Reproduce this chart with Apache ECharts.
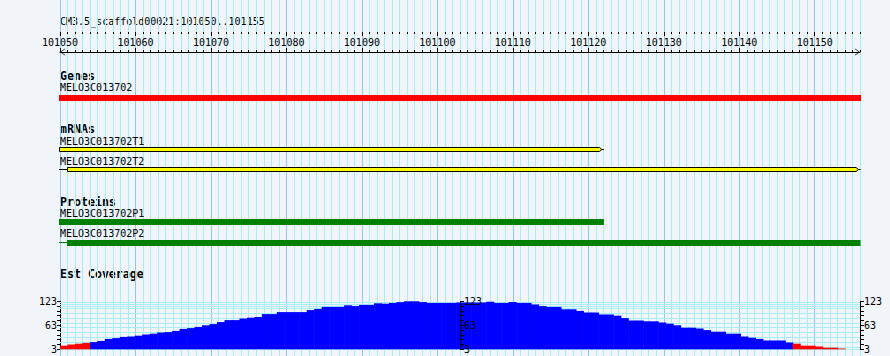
<!DOCTYPE html>
<html><head><meta charset="utf-8">
<script src="https://cdn.jsdelivr.net/npm/echarts@6/dist/echarts.min.js"></script>
<style>html,body{margin:0;padding:0;background:#f1f5fa}#c{width:890px;height:356px}</style>
</head><body><div id="c"></div>
<script>
// ---------- data ----------
const refName = 'CM3.5_scaffold00021';
const viewStart = 101050;
const viewEnd = 101156;           // shown as 101050..101155
const viewEndLabel = 101155;
const rulerMajorStep = 10;
const trackTitles = ['Genes', 'mRNAs', 'Proteins', 'Est Coverage'];

const geneNames = ['MELO3C013702'];
const geneStarts = [101050];
const geneEnds = [101156];

const mrnaNames = ['MELO3C013702T1', 'MELO3C013702T2'];
const mrnaStarts = [101050, 101050];
const mrnaBoxStarts = [101050, 101051];
const mrnaEnds = [101122, 101156];

const proteinNames = ['MELO3C013702P1', 'MELO3C013702P2'];
const proteinStarts = [101050, 101050];
const proteinBoxStarts = [101050, 101051];
const proteinEnds = [101122, 101156];

const coverage = [12,15,17,19,21,24,29,31,34,35,37,40,42,45,46,49,54,56,59,63,
  66,71,76,76,80,82,84,91,91,96,96,96,96,101,104,109,109,109,113,111,
  114,114,118,117,119,121,123,123,121,119,119,119,119,120,120,120,120,122,119,119,
  121,119,119,115,111,109,109,103,103,99,95,95,90,90,87,81,75,75,73,73,
  70,67,63,57,57,55,51,47,47,42,42,35,32,29,25,25,25,20,17,12,
  12,10,7,7,5,3,3];
const coverageMin = 3, coverageMax = 123, coverageStep = 12;
const coverageTickLabels = [3, 63, 123];
const lowCoverage = 20;
const coverageGridLines = [122, 116, 111, 105.5, 93.75, 81.75, 69.75, 57.75, 45.75, 33.75, 21.75, 9.75];

// ---------- layout / style ----------
const BG = '#f1f5fa', MINOR = '#a6eef2', MAJOR = '#8ccaee';
const smallFont = '10px "DejaVu Sans Mono"';
const boldFont = 'bold 11.6px "DejaVu Sans Mono"';
const L = 60, W = 800;
const titleY = [76, 128.5, 201.5, 274];
const geneLayout = { labelY: [87.5], barY: [95], barH: 6 };
const mrnaLayout = { labelY: [141, 161], barY: [147.5, 167.5], barH: 4 };
const protLayout = { labelY: [213, 233.5], barY: [219, 240], barH: 6 };
const covTop = 301.3, covH = 48;

const splitColors = [MAJOR].concat(new Array(rulerMajorStep - 1).fill(MINOR));
const chevron = 'path://M0,10 L7,0 L14,10 L12.4,10 L7,2.3 L1.6,10 Z';

function xOf(api, v) { return api.coord([v, 0])[0]; }

function renderGene(params, api) {
  const i = params.dataIndex;
  const x0 = xOf(api, api.value(0)), x1 = xOf(api, api.value(1));
  return { type: 'group', children: [
    { type: 'rect', shape: { x: x0 - 1, y: geneLayout.barY[i], width: x1 - x0 + 2, height: geneLayout.barH }, style: { fill: '#ff0000' } },
    { type: 'text', x: x0, y: geneLayout.labelY[i], style: { text: geneNames[i], font: smallFont, fill: '#000', verticalAlign: 'middle', align: 'left' } }
  ]};
}
function renderMrna(params, api) {
  const i = params.dataIndex;
  const xs = xOf(api, api.value(0)), xb = xOf(api, api.value(1)), x1 = xOf(api, api.value(2));
  const y = mrnaLayout.barY[i], h = mrnaLayout.barH, xe = x1 - 4;
  const bx = Math.round(xb) - 0.5;
  const ch = [];
  if (xb > xs) ch.push({ type: 'line', shape: { x1: xs - 1, y1: y + 2, x2: bx, y2: y + 2 }, style: { stroke: '#000', lineWidth: 1 } });
  ch.push({ type: 'polygon', shape: { points: [[bx, y], [xe, y], [xe + 2.5, y + 2], [xe, y + h], [bx, y + h]] }, style: { fill: '#ffff00', stroke: '#000', lineWidth: 1 } });
  ch.push({ type: 'line', shape: { x1: xe + 2.5, y1: y + 2, x2: x1 + 0.5, y2: y + 2 }, style: { stroke: '#000', lineWidth: 1 } });
  ch.push({ type: 'text', x: xs, y: mrnaLayout.labelY[i], style: { text: mrnaNames[i], font: smallFont, fill: '#000', verticalAlign: 'middle', align: 'left' } });
  return { type: 'group', children: ch };
}
function renderProt(params, api) {
  const i = params.dataIndex;
  const xs = xOf(api, api.value(0)), xb = xOf(api, api.value(1)), x1 = xOf(api, api.value(2));
  const y = protLayout.barY[i], h = protLayout.barH;
  const ch = [];
  if (xb > xs) ch.push({ type: 'line', shape: { x1: xs - 1, y1: y + 2.5, x2: xb, y2: y + 2.5 }, style: { stroke: '#008000', lineWidth: 1 } });
  ch.push({ type: 'rect', shape: { x: Math.round(xb) - 1, y: y, width: x1 - Math.round(xb) + 1.5, height: h }, style: { fill: '#008000' } });
  ch.push({ type: 'text', x: xs, y: protLayout.labelY[i], style: { text: proteinNames[i], font: smallFont, fill: '#000', verticalAlign: 'middle', align: 'left' } });
  return { type: 'group', children: ch };
}
function renderCovGrid(params, api) {
  const cs = params.coordSys;
  const y = Math.round(api.coord([0, api.value(0)])[1]) + 0.5;
  return { type: 'line', shape: { x1: cs.x, y1: y, x2: cs.x + cs.width, y2: y }, style: { stroke: MINOR, lineWidth: 1 } };
}
function renderCov(params, api) {
  const cs = params.coordSys;
  const idx = api.value(0), v = api.value(1);
  const top = api.coord([idx, v]);
  const base = api.coord([idx, coverageMin]);
  const w = api.size([1, 0])[0];
  const x0 = top[0] - w / 2;
  const right = Math.min(x0 + w + 0.6, cs.x + cs.width);
  return { type: 'rect', shape: { x: x0, y: top[1], width: right - x0, height: base[1] - top[1] },
    style: { fill: v < lowCoverage ? '#ff0000' : '#0000ff' } };
}

const axisFont = { fontFamily: 'DejaVu Sans Mono', fontSize: 10, color: '#000' };
const covLabelFmt = v => coverageTickLabels.indexOf(v) >= 0 ? String(v) : '';

const chart = echarts.init(document.getElementById('c'), null, { renderer: 'svg' });
chart.setOption({
  animation: false,
  backgroundColor: BG,
  grid: [
    { left: L, top: 0, width: W, height: 356, outerBoundsMode: 'none', containLabel: false },
    { left: L, top: 32, width: W, height: 20, outerBoundsMode: 'none', containLabel: false },
    { left: L, top: 32, width: W * (viewEndLabel - 5 - viewStart) / (viewEnd - viewStart), height: 20, outerBoundsMode: 'none', containLabel: false },
    { left: L, top: covTop, width: W, height: covH, outerBoundsMode: 'none', containLabel: false }
  ],
  xAxis: [
    { gridIndex: 0, type: 'value', min: viewStart, max: viewEnd, interval: 1,
      axisLine: { show: false }, axisTick: { show: false }, axisLabel: { show: false },
      splitLine: { show: true, lineStyle: { color: splitColors, width: 1 } } },
    { gridIndex: 1, type: 'value', position: 'top', min: viewStart, max: viewEnd, interval: 1,
      axisLine: { show: true, symbol: [chevron, chevron], symbolSize: [7, 5], symbolOffset: [2.5, -2.5], lineStyle: { color: '#000', width: 1 } },
      axisTick: { show: true, length: 2, inside: false, lineStyle: { color: '#000' } },
      axisLabel: { show: false }, splitLine: { show: false } },
    { gridIndex: 1, type: 'value', position: 'top', min: viewStart, max: viewEnd, interval: 1,
      axisLine: { show: false },
      axisTick: { show: true, length: 2, inside: true, lineStyle: { color: '#000' } },
      axisLabel: { show: false }, splitLine: { show: false } },
    { gridIndex: 2, type: 'value', position: 'top', min: viewStart, max: viewEndLabel - 5, interval: rulerMajorStep,
      axisLine: { show: false },
      axisTick: { show: true, length: 4, inside: false, lineStyle: { color: '#000' } },
      axisLabel: { show: false }, splitLine: { show: false } },
    { gridIndex: 2, type: 'value', position: 'top', min: viewStart, max: viewEndLabel - 5, interval: rulerMajorStep,
      axisLine: { show: false },
      axisTick: { show: true, length: 4, inside: true, lineStyle: { color: '#000' } },
      axisLabel: Object.assign({ show: true, inside: true, margin: 5, formatter: v => String(v) }, axisFont),
      splitLine: { show: false } },
    { gridIndex: 3, type: 'category', data: coverage.map((_, i) => i), boundaryGap: true,
      axisLine: { show: true, lineStyle: { color: MINOR, width: 1 } }, axisTick: { show: false }, axisLabel: { show: false }, splitLine: { show: false } }
  ],
  yAxis: [
    { gridIndex: 0, type: 'value', min: 0, max: 356, inverse: true, show: false },
    { gridIndex: 1, type: 'value', show: false },
    { gridIndex: 2, type: 'value', show: false },
    { gridIndex: 3, type: 'value', position: 'left', min: coverageMin, max: coverageMax, interval: coverageStep,
      axisLine: { show: true, lineStyle: { color: '#000' } }, axisTick: { show: true, length: 3, lineStyle: { color: '#000' } },
      axisLabel: Object.assign({ margin: 3, formatter: covLabelFmt }, axisFont), splitLine: { show: false } },
    { gridIndex: 3, type: 'value', position: 'left', offset: -W / 2, z: 10, min: coverageMin, max: coverageMax, interval: coverageStep,
      axisLine: { show: true, lineStyle: { color: '#000' } }, axisTick: { show: true, inside: true, length: 4, lineStyle: { color: '#000' } },
      axisLabel: Object.assign({ inside: true, margin: 4, formatter: covLabelFmt }, axisFont), splitLine: { show: false } },
    { gridIndex: 3, type: 'value', position: 'right', min: coverageMin, max: coverageMax, interval: coverageStep,
      axisLine: { show: true, lineStyle: { color: '#000' } }, axisTick: { show: true, length: 4, lineStyle: { color: '#000' } },
      axisLabel: Object.assign({ margin: 4, formatter: covLabelFmt }, axisFont), splitLine: { show: false } }
  ],
  graphic: [
    { type: 'text', x: L, y: 21, silent: true, style: { text: refName + ':' + viewStart + '..' + viewEndLabel, font: smallFont, fill: '#000', verticalAlign: 'middle' } }
  ].concat(trackTitles.map((t, i) => ({ type: 'text', x: L, y: titleY[i], silent: true, style: { text: t, font: boldFont, fill: '#000', verticalAlign: 'middle' } }))),
  series: [
    { type: 'custom', xAxisIndex: 0, yAxisIndex: 0, silent: true, z: 3, renderItem: renderGene,
      data: geneNames.map((_, i) => [geneStarts[i], geneEnds[i]]) },
    { type: 'custom', xAxisIndex: 0, yAxisIndex: 0, silent: true, z: 3, renderItem: renderMrna,
      data: mrnaNames.map((_, i) => [mrnaStarts[i], mrnaBoxStarts[i], mrnaEnds[i]]) },
    { type: 'custom', xAxisIndex: 0, yAxisIndex: 0, silent: true, z: 3, renderItem: renderProt,
      data: proteinNames.map((_, i) => [proteinStarts[i], proteinBoxStarts[i], proteinEnds[i]]) },
    { type: 'custom', xAxisIndex: 5, yAxisIndex: 3, silent: true, z: 1, renderItem: renderCovGrid,
      data: coverageGridLines.map(v => [v]), encode: { y: 0 } },
    { type: 'custom', xAxisIndex: 5, yAxisIndex: 3, silent: true, z: 5, renderItem: renderCov,
      data: coverage.map((v, i) => [i, v]), encode: { x: 0, y: 1 } }
  ]
});
</script></body></html>
